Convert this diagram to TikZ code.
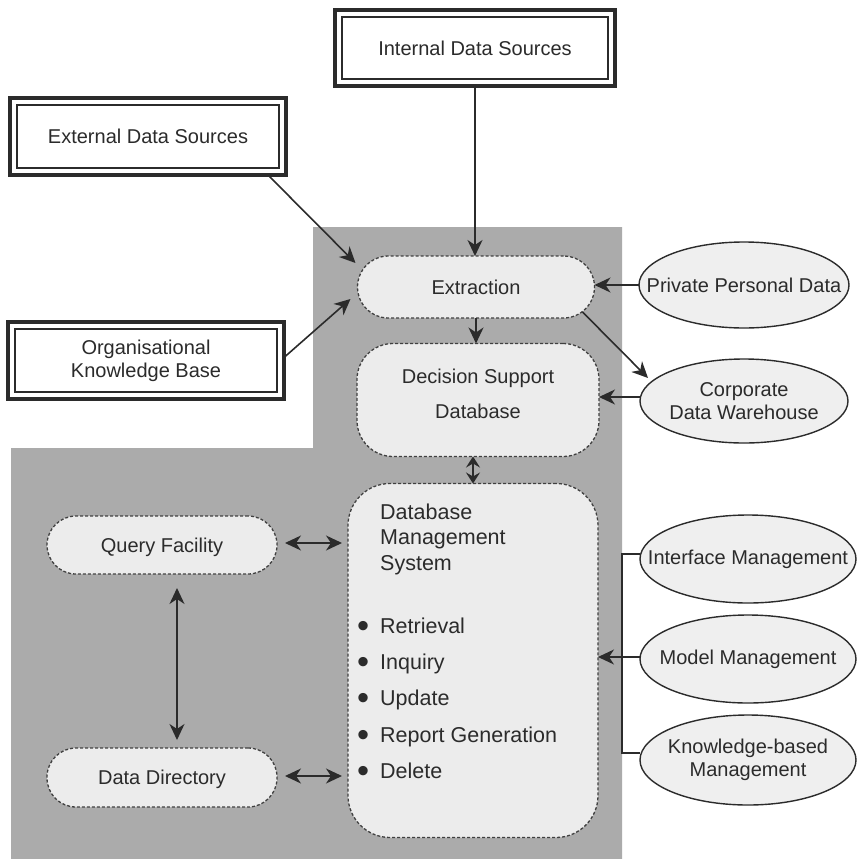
\documentclass[tikz,border=0pt]{standalone}
\usepackage{fontspec}
\setmainfont{Liberation Sans}
\usetikzlibrary{arrows.meta,shapes.geometric}

\definecolor{panel}{HTML}{ABABAB}
\definecolor{boxfill}{HTML}{ECECEC}
\definecolor{ellfill}{HTML}{EFEFEF}
\definecolor{ink}{HTML}{2B2B2B}

\tikzset{
  every node/.style={text=ink, font=\fontsize{20}{23}\selectfont},
  srcbox/.style={draw=ink, line width=3.5pt, fill=white, outer sep=0pt, align=center},
  procbox/.style={draw=ink!90, dash pattern=on 3pt off 2pt, line width=1.3pt,
    fill=boxfill, rounded corners=#1, outer sep=0pt, align=center},
  procbox/.default=30pt,
  extbox/.style={ellipse, draw=ink, line width=1.4pt, fill=ellfill, inner sep=0pt, outer sep=0pt},
  dbtext/.style={anchor=north west, inner sep=0pt, align=left},
  link/.style={draw=ink, line width=1.6pt},
  arr/.style={link, -{Stealth[length=16pt,width=15pt,inset=5pt]}},
  darr/.style={link, {Stealth[length=16pt,width=15pt,inset=5pt]}-{Stealth[length=16pt,width=15pt,inset=5pt]}},
  sdarr/.style={link, {Stealth[length=11pt,width=14pt,inset=4pt]}-{Stealth[length=11pt,width=14pt,inset=4pt]}},
}

\newcommand{\dbbullet}{\makebox[23pt][l]{\raisebox{-0.19em}{\scalebox{1.6}{\textbullet}}}}

\begin{document}
\begin{tikzpicture}[x=1pt,y=-1pt]
  \useasboundingbox (0,0) rectangle (857,859);

  % shaded system area
  \fill[panel] (313,227) -- (622,227) -- (622,859) -- (11,859) -- (11,448) -- (313,448) -- cycle;

  % data sources (double framed)
  \node[srcbox, minimum width=280pt, minimum height=76pt] (ids) at (475,48) {Internal Data Sources};
  \node[srcbox, minimum width=276pt, minimum height=77pt] (eds) at (148,136.5) {External Data Sources};
  \node[srcbox, minimum width=276pt, minimum height=77pt] (okb) at (146,360.5) {Organisational\\Knowledge Base};
  \foreach \n in {ids,eds,okb}
    \draw[ink, line width=1.3pt] ([shift={(7,7)}]\n.north west) rectangle ([shift={(-7,-7)}]\n.south east);

  % processing units
  \node[procbox=31pt, minimum width=237pt, minimum height=62pt, text depth=0pt] (ext) at (476,287) {Extraction};
  \node[procbox=36pt, minimum width=242pt, minimum height=113pt,
        font=\fontsize{20}{35}\selectfont, text depth=13pt] (dsd) at (478,400) {Decision Support\\Database};
  \node[procbox=42pt, minimum width=250pt, minimum height=354pt] (dbms) at (473,660.5) {};
  \node[procbox=29pt, minimum width=230pt, minimum height=58pt, text depth=0pt] (qf) at (162,545) {Query Facility};
  \node[procbox=29pt, minimum width=230pt, minimum height=59pt, text depth=0pt] (dd) at (162,777.5) {Data Directory};

  % DBMS contents
  \node[dbtext, font=\fontsize{21.5}{25.5}\selectfont] (dbmstitle) at (380,503.5)
    {Database\\Management\\System};
  \node[dbtext, font=\fontsize{21.5}{36.3}\selectfont] (dbmslist) at (357,617.5)
    {\dbbullet Retrieval\\\dbbullet Inquiry\\\dbbullet Update\\\dbbullet Report Generation\\\dbbullet Delete};

  % external stores and management components
  \node[extbox, minimum width=210pt, minimum height=86pt, label={center:Private Personal Data}] (pvt) at (744,285) {};
  \node[extbox, minimum width=208pt, minimum height=84pt, label={[align=center]center:Corporate\\Data Warehouse}] (cdw) at (744,401) {};
  \node[extbox, minimum width=216pt, minimum height=88pt, label={center:Interface Management}] (im) at (748,559) {};
  \node[extbox, minimum width=216pt, minimum height=88pt, label={center:Model Management}] (mm) at (748,659) {};
  \node[extbox, minimum width=216pt, minimum height=90pt, label={[align=center]center:Knowledge-based\\Management}] (km) at (748,760) {};

  % flows into extraction
  \draw[arr] (ids.south) -- (ids.south |- ext.north);
  \draw[arr] ([xshift=-18]eds.south east) -- ([shift={(-2,-24)}]ext.west);
  \draw[arr] ([yshift=3]okb.east) -- ([shift={(-7,12)}]ext.west);
  \draw[arr] (pvt.west) -- (pvt.west -| ext.east);

  % flows out of extraction
  \draw[arr] ([shift={(-12,-6)}]ext.south east) -- ([shift={(8,-23)}]cdw.west);
  \draw[arr] (ext.south) -- (ext.south |- dsd.north);
  \draw[arr] ([yshift=4]cdw.west) -- ([yshift=4]cdw.west -| dsd.east);

  % database links
  \draw[sdarr] (dbms.north) -- (dbms.north |- dsd.south);
  \draw[darr, shorten <=8pt, shorten >=6pt] ([yshift=2]qf.east) -- ([yshift=2]qf.east -| dbms.west);
  \draw[darr, shorten <=8pt, shorten >=6pt] ([yshift=1.5]dd.east) -- ([yshift=1.5]dd.east -| dbms.west);
  \draw[darr, shorten <=14pt, shorten >=8pt] ([xshift=15]qf.south) -- ([xshift=15]dd.north);

  % management components
  \draw[link] ([yshift=5]im.west) -- ++(-18,0) |- ([yshift=7]km.west);
  \draw[arr] ([yshift=2]mm.west) -- ([yshift=2]mm.west -| dbms.east);
\end{tikzpicture}
\end{document}
